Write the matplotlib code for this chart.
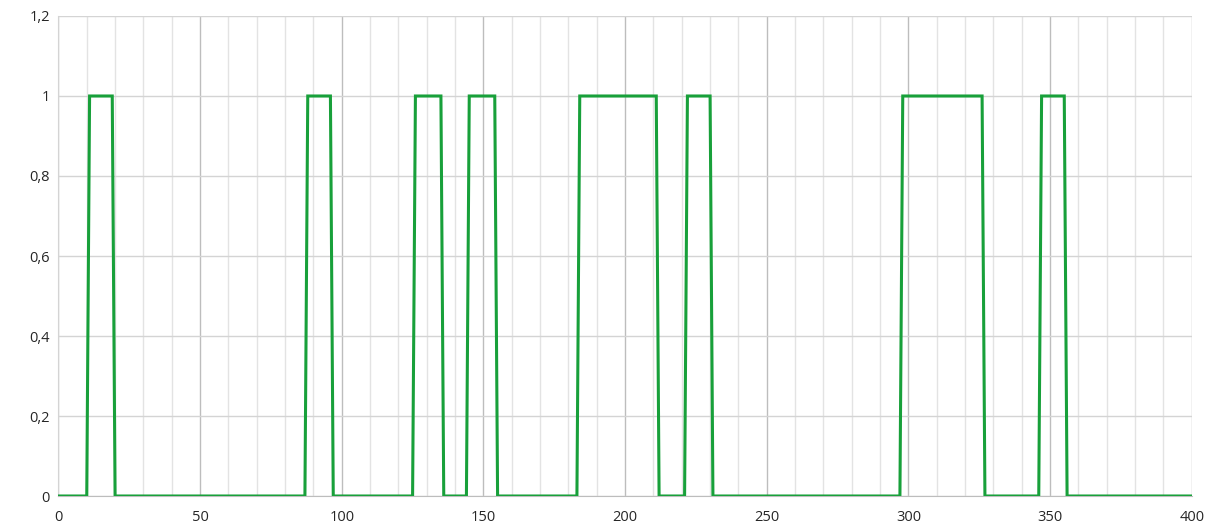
import matplotlib
matplotlib.use('Agg')
import matplotlib.pyplot as plt
from matplotlib.ticker import MultipleLocator, FuncFormatter

# breakpoints of the on/off signal (each edge takes one step)
x_pts = [0, 10, 11, 19, 20,
         87, 88, 96, 97,
         125, 126, 135, 136,
         144, 145, 154, 155,
         183, 184, 211, 212,
         221, 222, 230, 231,
         297, 298, 326, 327,
         346, 347, 355, 356,
         400]
y_pts = [0, 0, 1, 1, 0,
         0, 1, 1, 0,
         0, 1, 1, 0,
         0, 1, 1, 0,
         0, 1, 1, 0,
         0, 1, 1, 0,
         0, 1, 1, 0,
         0, 1, 1, 0,
         0]

plt.rcParams['font.family'] = ['Open Sans', 'DejaVu Sans']

fig = plt.figure(figsize=(12.12, 5.28), dpi=100)
ax = fig.add_axes([0.0482, 0.0606, 0.9351, 0.9091])

ax.plot(x_pts, y_pts, color='#18a03a', lw=2.2, solid_joinstyle='miter', zorder=3)

ax.set_xlim(0, 400)
ax.set_ylim(0, 1.2)
ax.xaxis.set_major_locator(MultipleLocator(50))
ax.xaxis.set_minor_locator(MultipleLocator(10))
ax.yaxis.set_major_locator(MultipleLocator(0.2))

ax.grid(which='minor', axis='x', color='#e3e3e3', lw=1.0)
ax.grid(which='major', axis='x', color='#bdbdbd', lw=1.0)
ax.grid(which='major', axis='y', color='#d4d4d4', lw=1.0)
ax.set_axisbelow(True)

fmt = FuncFormatter(lambda v, p: ('%g' % round(v, 1)).replace('.', ','))
ax.yaxis.set_major_formatter(fmt)
ax.tick_params(which='both', length=0, labelsize=10.5, colors='#262626')
ax.tick_params(axis='x', pad=10)
ax.tick_params(axis='y', pad=6)

for s in ['top', 'right']:
    ax.spines[s].set_visible(False)
ax.spines['left'].set_color('#d4d4d4')
ax.spines['bottom'].set_color('#bdbdbd')

fig.savefig('out.png', dpi=100)
